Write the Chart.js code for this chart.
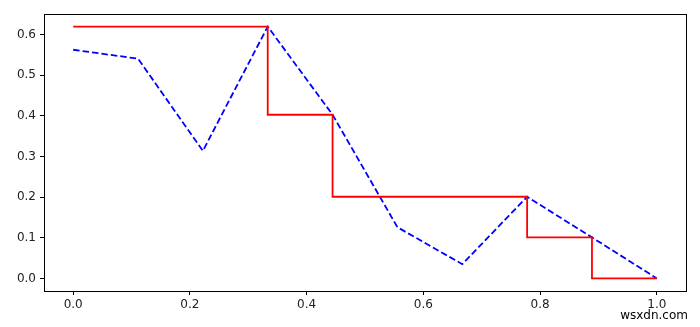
<!DOCTYPE html>
<html>
<head>
<meta charset="utf-8">
<script src="https://cdn.jsdelivr.net/npm/chart.js@4"></script>
<style>
  html, body { margin: 0; padding: 0; background: #fff; }
  #wrap { width: 700px; height: 327px; position: relative; }
</style>
</head>
<body>
<div id="wrap"><canvas id="chart"></canvas></div>
<script>
// x positions: 10 evenly spaced points from 0 to 1
const xValues = [0, 1 / 9, 2 / 9, 3 / 9, 4 / 9, 5 / 9, 6 / 9, 7 / 9, 8 / 9, 1];
// dashed blue line
const blueValues = [0.563, 0.541, 0.314, 0.62, 0.403, 0.126, 0.035, 0.201, 0.101, 0.0];
// red step line (value held back to the previous point)
const redValues = [0.62, 0.62, 0.62, 0.62, 0.403, 0.201, 0.201, 0.201, 0.101, 0.0];

const xTicks = [0, 0.2, 0.4, 0.6, 0.8, 1.0];
const yTicks = [0, 0.1, 0.2, 0.3, 0.4, 0.5, 0.6];

function toPoints(ys) {
  return xValues.map((x, i) => ({ x: x, y: ys[i] }));
}

// full box around the plot, like matplotlib spines
const frame = {
  id: 'frame',
  afterDraw(chart) {
    const { ctx, chartArea: a } = chart;
    ctx.save();
    ctx.strokeStyle = '#000';
    ctx.lineWidth = 1;
    ctx.strokeRect(Math.round(a.left) + 0.5, Math.round(a.top) + 0.5,
      Math.round(a.right - a.left), Math.round(a.bottom - a.top));
    ctx.fillStyle = '#000';
    ctx.font = '12px "DejaVu Sans"';
    ctx.textAlign = 'right';
    ctx.textBaseline = 'middle';
    ctx.fillText('wsxdn.com', 688, 316);
    ctx.restore();
  }
};

const tickFont = { family: 'DejaVu Sans', size: 12 };

new Chart(document.getElementById('chart'), {
  type: 'line',
  data: {
    datasets: [
      {
        label: 'step',
        data: toPoints(redValues),
        borderColor: '#ff0000',
        borderWidth: 1.8,
        stepped: 'after',
        pointRadius: 0,
        fill: false
      },
      {
        label: 'line',
        data: toPoints(blueValues),
        borderColor: '#0000ff',
        borderWidth: 1.8,
        borderDash: [6.5, 3],
        pointRadius: 0,
        tension: 0,
        fill: false
      }
    ]
  },
  options: {
    responsive: true,
    maintainAspectRatio: false,
    animation: false,
    layout: { padding: { top: 14, right: 14, left: 0, bottom: 0 } },
    plugins: { legend: { display: false }, tooltip: { enabled: false } },
    scales: {
      x: {
        type: 'linear',
        min: -0.05,
        max: 1.05,
        afterBuildTicks(scale) { scale.ticks = xTicks.map(v => ({ value: v })); },
        afterFit(scale) { scale.height = 36; },
        grid: { drawOnChartArea: false, drawTicks: true, tickLength: 4, tickColor: '#000' },
        border: { display: false },
        ticks: { color: '#222', font: tickFont, padding: 3, maxRotation: 0,
          callback: v => v.toFixed(1) }
      },
      y: {
        min: -0.031,
        max: 0.651,
        afterBuildTicks(scale) { scale.ticks = yTicks.map(v => ({ value: v })); },
        afterFit(scale) { scale.width = 44; },
        grid: { drawOnChartArea: false, drawTicks: true, tickLength: 4, tickColor: '#000' },
        border: { display: false },
        ticks: { color: '#222', font: tickFont, padding: 4,
          callback: v => v.toFixed(1) }
      }
    }
  },
  plugins: [frame]
});
</script>
</body>
</html>
